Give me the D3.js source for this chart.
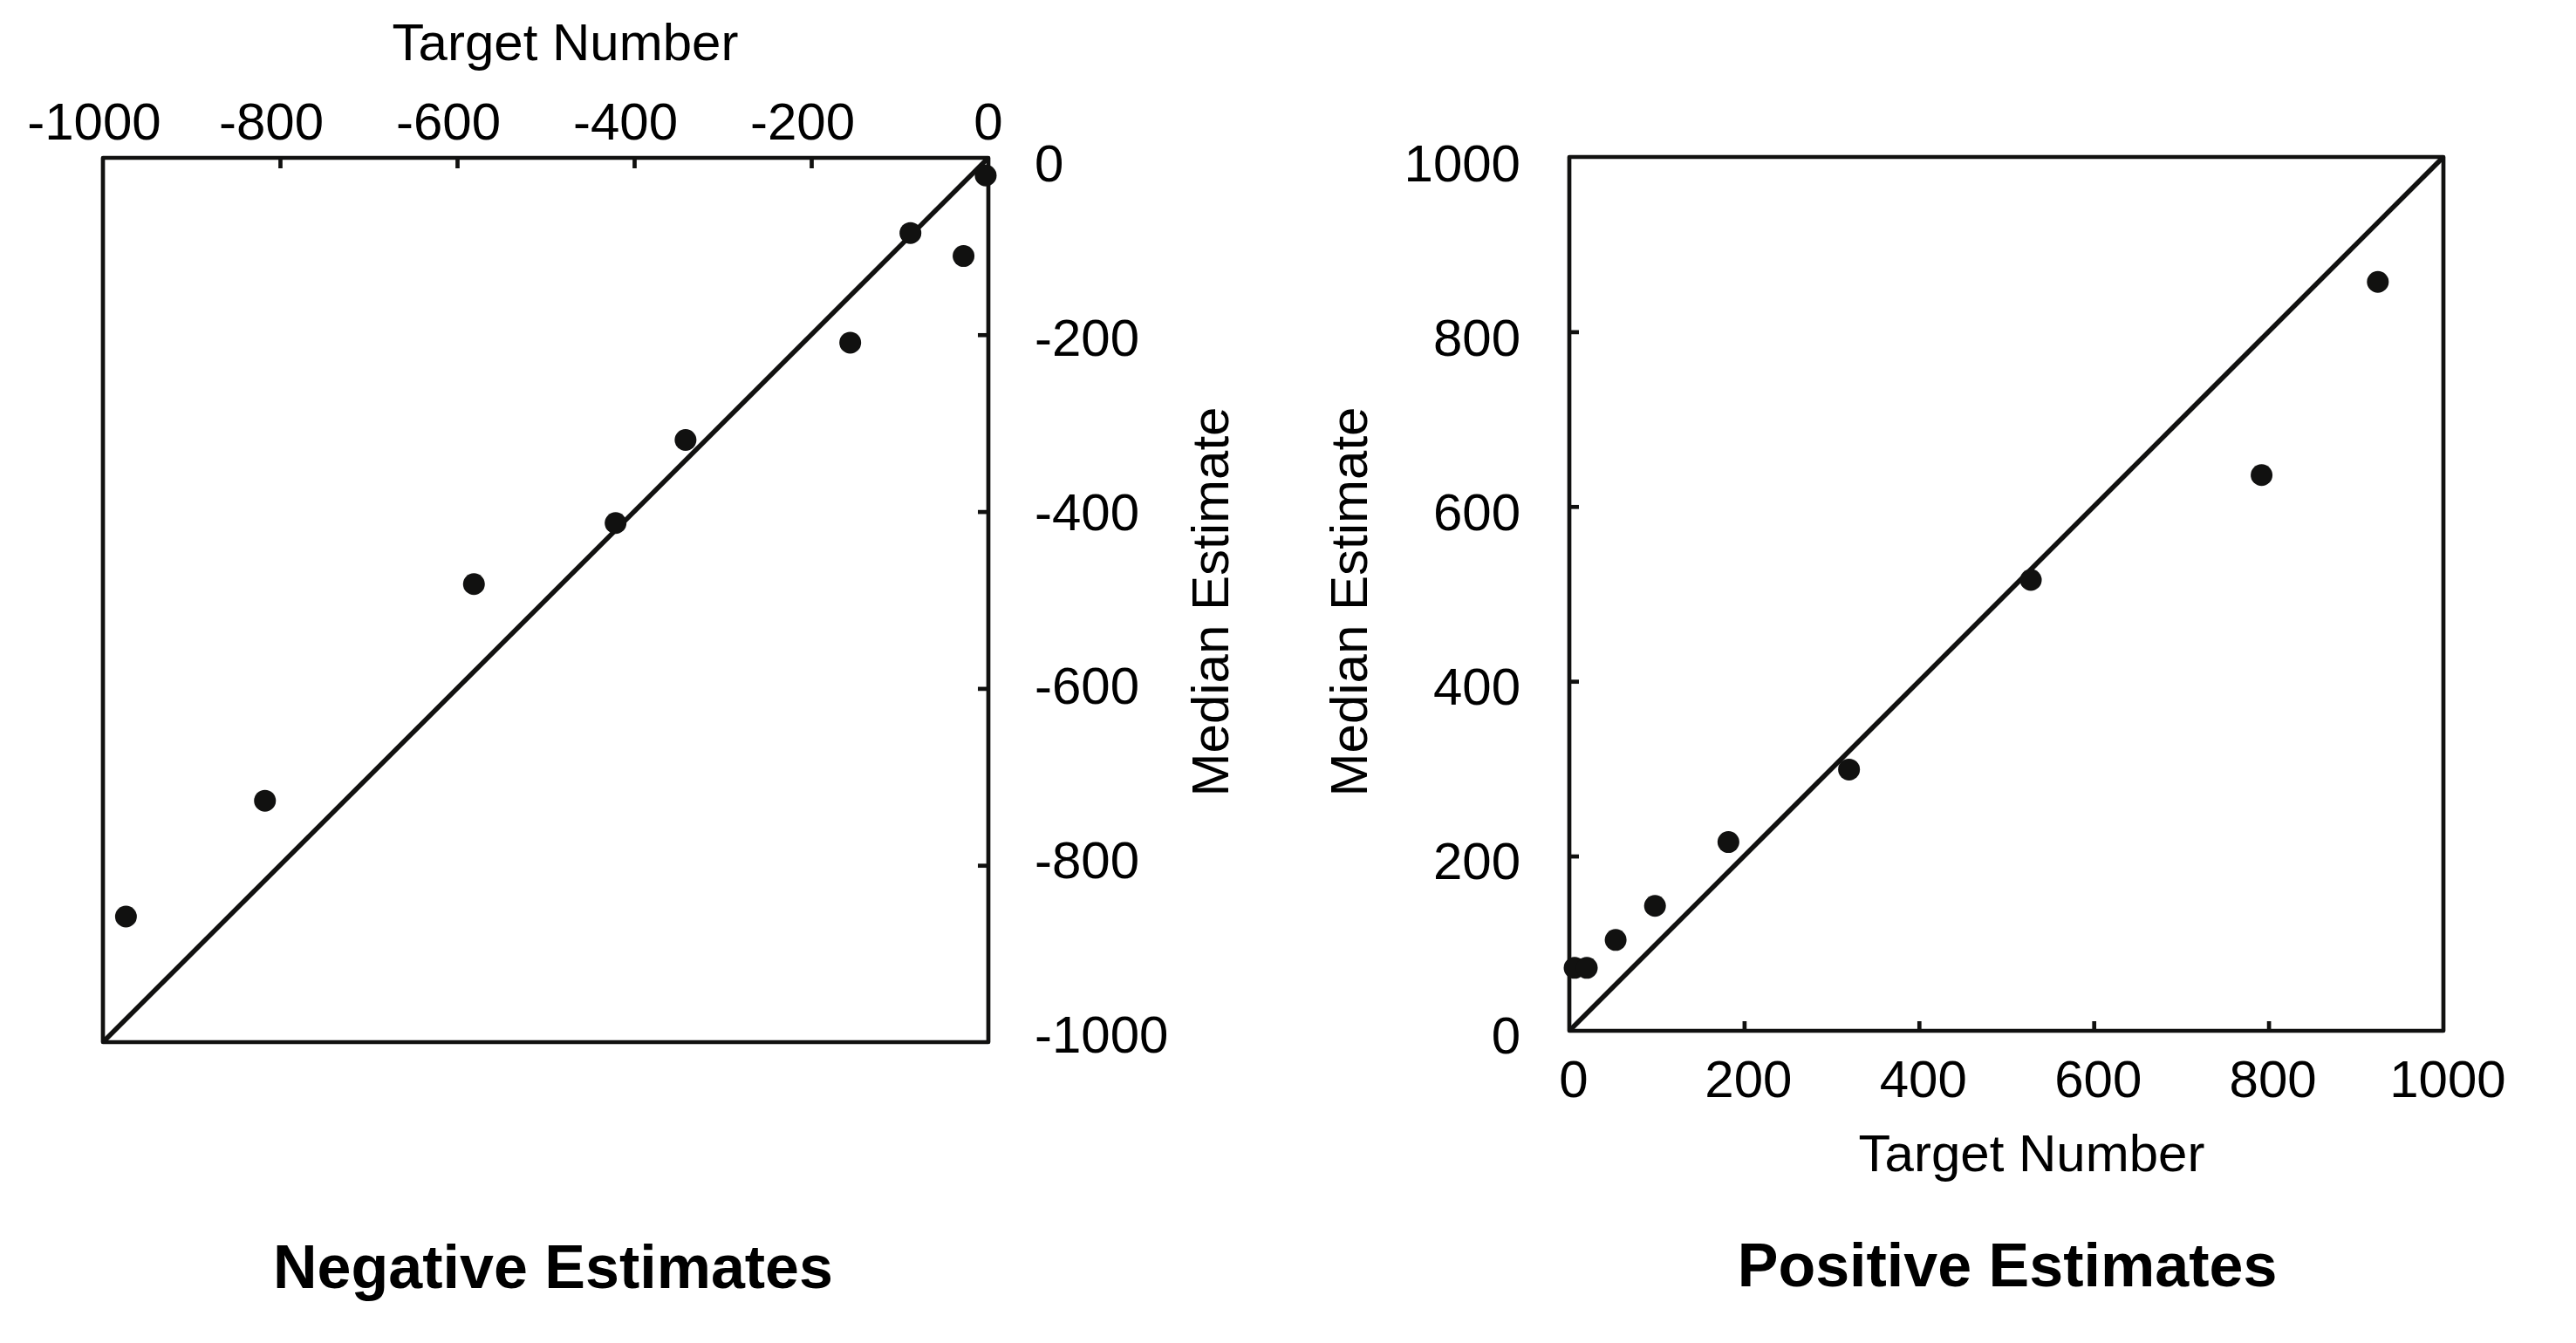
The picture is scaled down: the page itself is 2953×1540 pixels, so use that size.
<!DOCTYPE html>
<html>
<head>
<meta charset="utf-8">
<script src="https://cdn.jsdelivr.net/npm/d3@7/dist/d3.min.js"></script>
<style>
  html, body { margin: 0; padding: 0; background: #ffffff; }
  svg { display: block; }
  text { font-family: "Liberation Sans", Arial, Helvetica, sans-serif; fill: #000; }
</style>
</head>
<body>
<svg id="chart" width="2953" height="1540"></svg>
<script>
// ---------- data ----------
const negTarget   = [-3, -88, -28, -156, -342, -421, -581, -817, -974];
const negEstimate = [-20, -85, -111, -209, -319, -413, -482, -727, -858];
const posTarget   = [6, 20, 53, 98, 182, 320, 528, 792, 925];
const posEstimate = [72, 72, 104, 143, 216, 299, 516, 636, 857];
const negTickLabels = [-1000, -800, -600, -400, -200, 0];
const posTickLabels = [0, 200, 400, 600, 800, 1000];
const negInnerTicks = [-800, -600, -400, -200];
const posInnerTicks = [200, 400, 600, 800];
const negDiagonal = [[-1000, -1000], [0, 0]];
const posDiagonal = [[0, 0], [1000, 1000]];
const xTitle = "Target Number";
const yTitle = "Median Estimate";
const negTitle = "Negative Estimates";
const posTitle = "Positive Estimates";

// ---------- layout ----------
const svg = d3.select("#chart");
svg.append("rect").attr("width", 2953).attr("height", 1540).attr("fill", "#fff");

const INK = "#111110";
const FS = 60;
const TFS = 70;

const xN = d3.scaleLinear().domain([-1000, 0]).range([118, 1133]);
const yN = d3.scaleLinear().domain([-1000, 0]).range([1195, 181]);
const xP = d3.scaleLinear().domain([0, 1000]).range([1799, 2801]);
const yP = d3.scaleLinear().domain([0, 1000]).range([1182, 180]);
// label placement scales (labels are spaced slightly tighter than ticks)
const yNLab = d3.scaleLinear().domain([-1000, 0]).range([1185, 186.5]);
const yPLab = d3.scaleLinear().domain([0, 1000]).range([1186, 186.5]);

function frame(x, y) {
  const [x0, x1] = x.range();
  const [y0, y1] = y.range();
  svg.append("rect")
    .attr("x", Math.min(x0, x1)).attr("y", Math.min(y0, y1))
    .attr("width", Math.abs(x1 - x0)).attr("height", Math.abs(y1 - y0))
    .attr("fill", "none").attr("stroke", INK).attr("stroke-width", 4.7)
    .attr("stroke-linejoin", "round");
}

function tickAxis(axis, tx, ty) {
  const g = svg.append("g").attr("transform", `translate(${tx},${ty})`).call(axis);
  g.select(".domain").remove();
  g.selectAll(".tick line").attr("stroke", INK).attr("stroke-width", 4.7);
  g.selectAll(".tick text").remove();
  return g;
}

// ---------- Negative plot ----------
frame(xN, yN);
tickAxis(d3.axisTop(xN).tickValues(negInnerTicks).tickSize(-12), 0, yN(0));
tickAxis(d3.axisRight(yN).tickValues(negInnerTicks).tickSize(-12), xN(0), 0);

svg.append("path")
  .attr("d", d3.line().x(d => xN(d[0])).y(d => yN(d[1]))(negDiagonal))
  .attr("stroke", INK).attr("stroke-width", 5.5).attr("fill", "none");

svg.append("g").selectAll("circle")
  .data(negTarget.map((t, i) => [t, negEstimate[i]]))
  .join("circle")
  .attr("cx", d => xN(d[0])).attr("cy", d => yN(d[1])).attr("r", 12.5)
  .attr("fill", INK);

svg.append("g").selectAll("text")
  .data(negTickLabels).join("text")
  .attr("x", d => xN(d) - (d < 0 ? 10 : 0)).attr("y", 160)
  .attr("text-anchor", "middle").attr("font-size", FS)
  .text(d => d);

svg.append("g").selectAll("text")
  .data(negTickLabels).join("text")
  .attr("x", 1186).attr("y", d => yNLab(d)).attr("dy", "0.36em")
  .attr("text-anchor", "start").attr("font-size", FS)
  .text(d => d);

svg.append("text").attr("x", 648).attr("y", 69)
  .attr("text-anchor", "middle").attr("font-size", FS).text(xTitle);

svg.append("text").attr("transform", "translate(1408,690) rotate(-90)")
  .attr("text-anchor", "middle").attr("font-size", FS).text(yTitle);

svg.append("text").attr("x", 634).attr("y", 1477)
  .attr("text-anchor", "middle").attr("font-size", TFS).attr("font-weight", "bold")
  .text(negTitle);

// ---------- Positive plot ----------
frame(xP, yP);
tickAxis(d3.axisBottom(xP).tickValues(posInnerTicks).tickSize(-11), 0, yP(0));
tickAxis(d3.axisLeft(yP).tickValues(posInnerTicks).tickSize(-11), xP(0), 0);

svg.append("path")
  .attr("d", d3.line().x(d => xP(d[0])).y(d => yP(d[1]))(posDiagonal))
  .attr("stroke", INK).attr("stroke-width", 5.5).attr("fill", "none");

svg.append("g").selectAll("circle")
  .data(posTarget.map((t, i) => [t, posEstimate[i]]))
  .join("circle")
  .attr("cx", d => xP(d[0])).attr("cy", d => yP(d[1])).attr("r", 12.5)
  .attr("fill", INK);

svg.append("g").selectAll("text")
  .data(posTickLabels).join("text")
  .attr("x", d => xP(d) + 5).attr("y", 1258)
  .attr("text-anchor", "middle").attr("font-size", FS)
  .text(d => d);

svg.append("g").selectAll("text")
  .data(posTickLabels).join("text")
  .attr("x", 1743).attr("y", d => yPLab(d)).attr("dy", "0.36em")
  .attr("text-anchor", "end").attr("font-size", FS)
  .text(d => d);

svg.append("text").attr("x", 2329).attr("y", 1343)
  .attr("text-anchor", "middle").attr("font-size", FS).text(xTitle);

svg.append("text").attr("transform", "translate(1567,690) rotate(-90)")
  .attr("text-anchor", "middle").attr("font-size", FS).text(yTitle);

svg.append("text").attr("x", 2301).attr("y", 1475)
  .attr("text-anchor", "middle").attr("font-size", TFS).attr("font-weight", "bold")
  .text(posTitle);
</script>
</body>
</html>
